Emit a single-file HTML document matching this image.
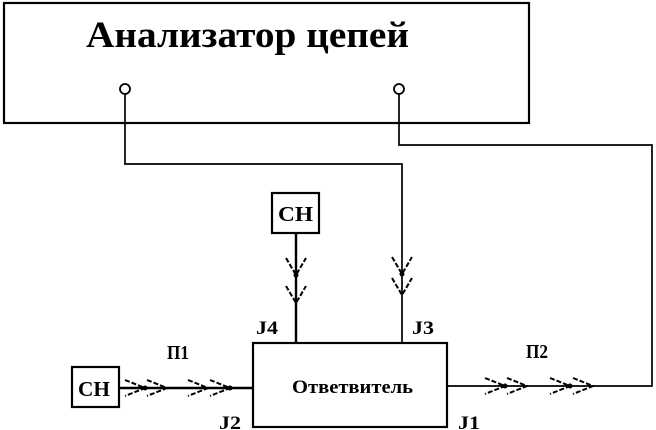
<!DOCTYPE html>
<html><head><meta charset="utf-8"><style>
html,body{margin:0;padding:0;background:#fff;}
svg{display:block;}
text{font-family:"Liberation Serif","DejaVu Serif",serif;font-weight:bold;fill:#000;}
</style></head><body>
<svg width="656" height="430" viewBox="0 0 656 430" xmlns="http://www.w3.org/2000/svg">
<g fill="none" stroke="#000" stroke-width="2.2">
<rect x="4" y="3" width="525" height="120"/>
<rect x="253" y="343" width="194" height="84"/>
<rect x="272" y="193" width="47" height="40"/>
<rect x="72" y="367" width="47" height="40"/>
</g>
<g fill="none" stroke="#000" stroke-width="1.7">
<polyline points="125,94 125,164 402,164 402,343"/>
<polyline points="399,94 399,145 652,145 652,386 447,386"/>
<line x1="296" y1="233" x2="296" y2="343" stroke-width="2.4"/>
<line x1="119" y1="388" x2="253" y2="388" stroke-width="2.4"/>
</g>
<g fill="#fff" stroke="#000" stroke-width="1.8">
<circle cx="125" cy="89" r="5"/>
<circle cx="399" cy="89" r="5"/>
</g>
<text x="86" y="47" font-size="37" textLength="323" lengthAdjust="spacingAndGlyphs">Анализатор цепей</text>
<g fill="none" stroke="#000" stroke-width="2" stroke-dasharray="5,2">
<polyline points="286,258 296,275 306,258"/>
<polyline points="286,286 296,303 306,286"/>
<polyline points="392,257 402,274 412,257"/>
<polyline points="392,278 402,295 412,278"/>
<polyline points="125,380 145,388 125,396"/>
<polyline points="147,380 167,388 147,396"/>
<polyline points="188,380 208,388 188,396"/>
<polyline points="210,380 230,388 210,396"/>
<polyline points="485,378 505,386 485,394"/>
<polyline points="507,378 527,386 507,394"/>
<polyline points="550,378 570,386 550,394"/>
<polyline points="573,378 593,386 573,394"/>
</g>
<g fill="#000">
<circle cx="296" cy="275" r="2.5"/><circle cx="402" cy="274" r="2.5"/>
<circle cx="145" cy="388" r="2.5"/><circle cx="230" cy="388" r="2.5"/>
<circle cx="505" cy="386" r="2.5"/><circle cx="570" cy="386" r="2.5"/>
</g>
<text x="278" y="221" font-size="21" textLength="35" lengthAdjust="spacingAndGlyphs">СН</text>
<text x="78" y="396" font-size="21" textLength="32" lengthAdjust="spacingAndGlyphs">СН</text>
<text x="292" y="393" font-size="19" textLength="121" lengthAdjust="spacingAndGlyphs">Ответвитель</text>
<text x="256" y="334" font-size="19" textLength="22" lengthAdjust="spacingAndGlyphs">J4</text>
<text x="412" y="334" font-size="19" textLength="22" lengthAdjust="spacingAndGlyphs">J3</text>
<text x="219" y="429" font-size="19" textLength="22" lengthAdjust="spacingAndGlyphs">J2</text>
<text x="458" y="429" font-size="19" textLength="22" lengthAdjust="spacingAndGlyphs">J1</text>
<text x="167" y="359" font-size="20" textLength="22" lengthAdjust="spacingAndGlyphs">П1</text>
<text x="526" y="358" font-size="20" textLength="22" lengthAdjust="spacingAndGlyphs">П2</text>
</svg>
</body></html>
